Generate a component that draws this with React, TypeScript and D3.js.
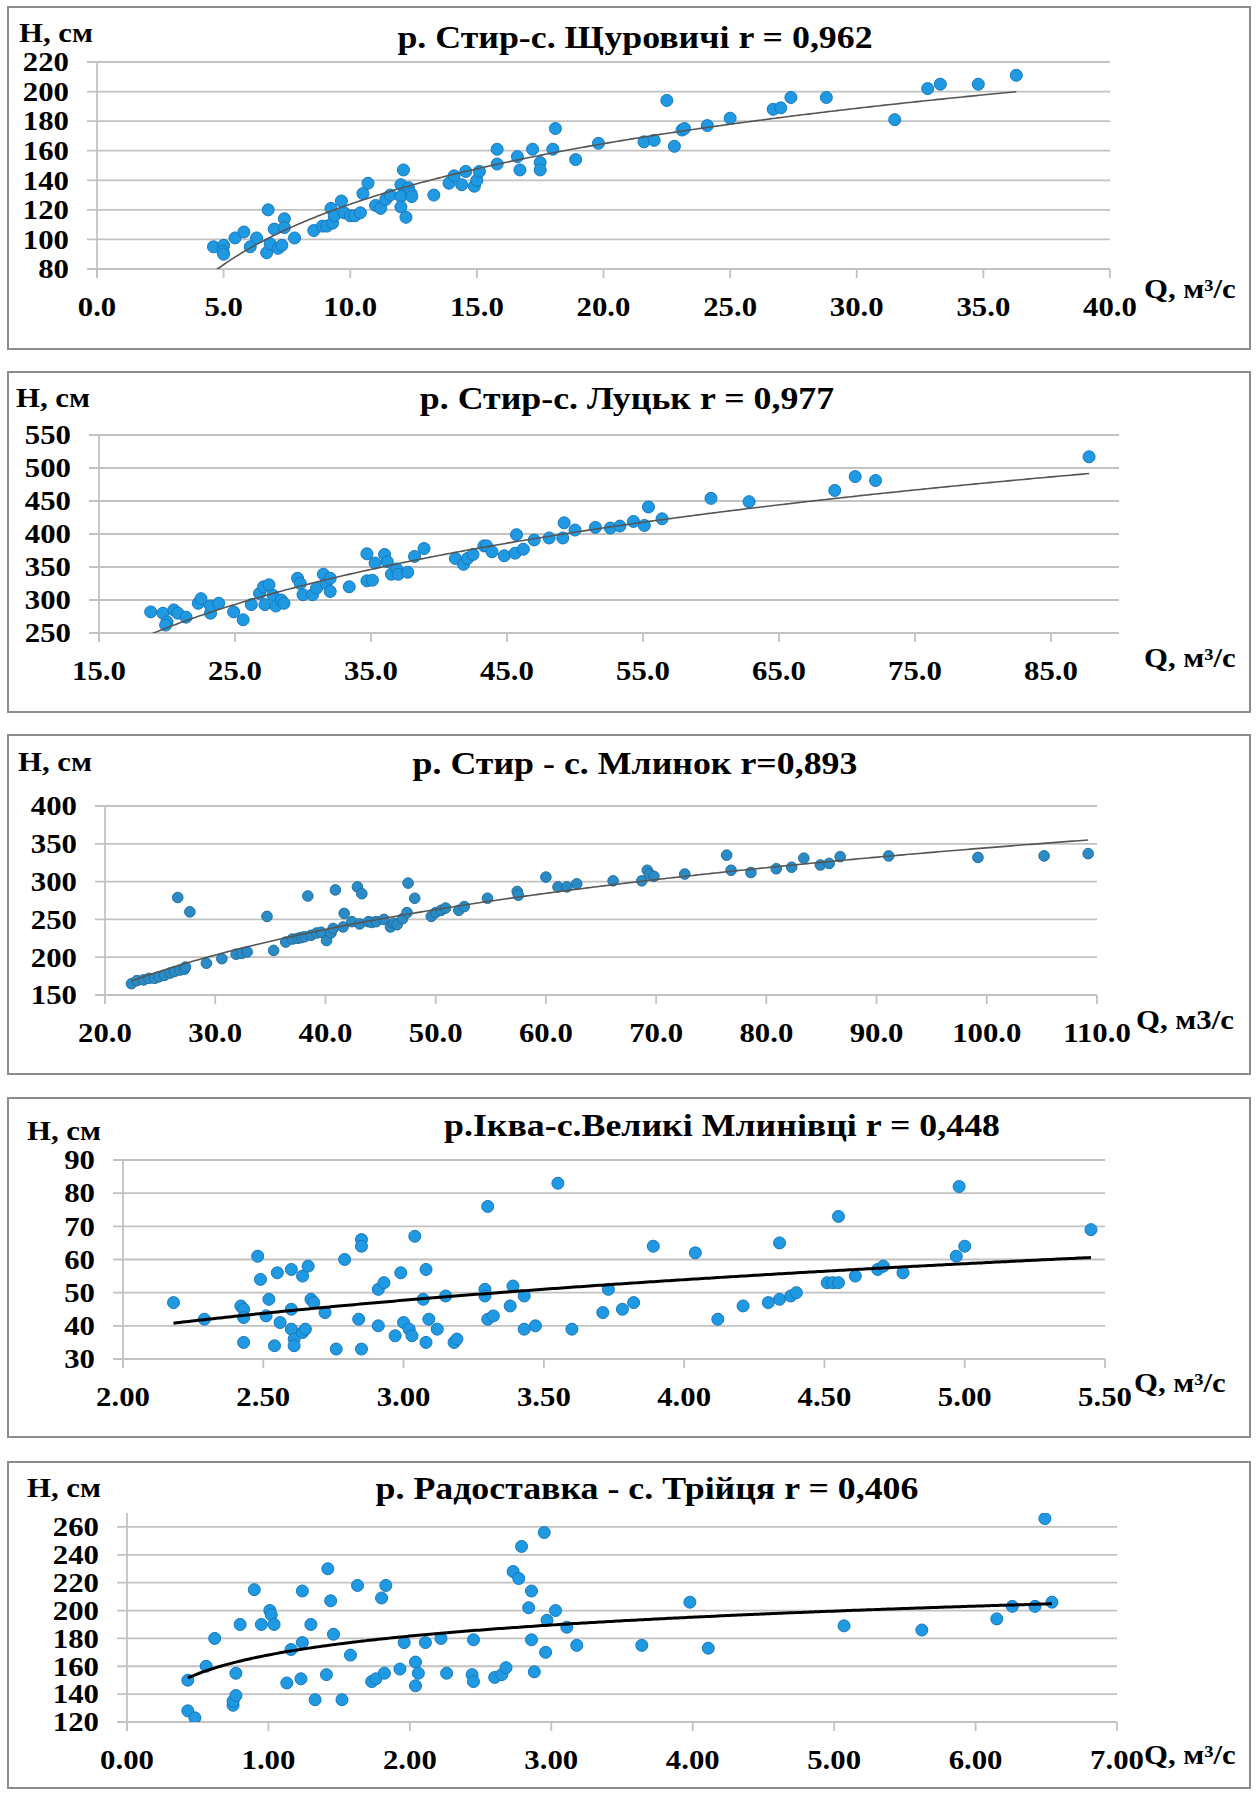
import React from 'react';
import * as d3 from 'd3';

// ---------- Data ----------
// Panel 1: р. Стир - с. Щуровичі
const q1 = [4.6,5.0,4.97,5.0,5.45,5.8,6.05,6.3,6.76,6.7,6.84,7.0,7.15,7.3,7.4,7.4,7.8,8.56,8.9,9.08,9.24,9.3,9.37,9.65,9.76,10.0,10.18,10.4,10.5,10.7,11.0,11.2,11.4,11.58,12.0,12.1,12.0,12.0,12.2,12.3,12.4,12.43,13.3,13.9,14.1,14.4,14.56,14.9,15.0,15.1,15.8,15.8,16.6,16.7,17.2,17.5,17.5,18.0,18.1,18.9,19.8,21.6,22.0,22.5,22.8,23.1,23.2,24.1,25.0,26.7,27.0,27.4,28.8,31.5,32.8,33.3,34.8,36.3];
const h1 = [95,96,92,90,101,105,95,101,120,91,97,107,94,96,114,108,101,106,109,109,121,111,116,126,118,116,116,118,131,138,123,121,127,130,137,147,129,122,115,135,131,129,130,138,143,137,146,136,140,146,161,151,156,147,161,152,147,161,175,154,165,166,167,194,163,174,175,177,182,188,189,196,196,181,202,205,205,211];
const xTicks1 = [0,5,10,15,20,25,30,35,40];
const yTicks1 = [80,100,120,140,160,180,200,220];
const trend1 = [-12, 59]; // H = a + b ln Q

// Panel 2: р. Стир - с. Луцьк
const q2 = [18.8,19.7,20.0,19.9,20.5,20.8,21.4,22.3,22.5,23.2,23.2,23.8,24.9,25.6,26.2,26.8,27.1,27.2,27.5,27.8,28.0,28.4,28.6,29.6,29.8,30.0,30.7,31.0,31.5,31.7,32.0,32.0,33.4,34.7,34.7,35.1,35.3,36.0,36.2,36.5,36.9,37.0,37.7,38.2,38.9,41.2,41.8,42.1,42.5,43.3,43.5,43.9,44.8,45.6,45.7,46.2,47.0,48.1,49.1,49.2,50.0,51.5,52.6,53.3,54.3,55.1,55.4,56.4,60.0,62.8,69.1,70.6,72.1,87.8];
const h2 = [282,280,267,262,285,280,274,295,302,280,291,295,282,270,293,310,320,293,323,307,291,300,295,333,325,308,308,318,339,325,313,333,320,370,329,330,356,369,358,339,347,339,342,366,378,363,354,363,369,382,382,373,367,371,399,377,391,394,394,417,406,410,409,412,419,413,441,423,454,449,466,487,481,517];
const xTicks2 = [15,25,35,45,55,65,75,85];
const yTicks2 = [250,300,350,400,450,500,550];
const trend2 = [-215, 157.9];

// Panel 3: р. Стир - с. Млинок
const q3 = [22.4,22.9,23.5,24.0,24.5,24.9,25.4,25.9,26.3,26.8,27.2,27.3,26.6,27.7,29.2,30.6,31.9,32.4,32.9,34.7,35.3,36.4,37.0,37.5,37.8,38.1,38.4,38.7,39.2,39.6,40.1,40.5,40.9,40.7,41.7,41.6,42.4,42.9,43.3,43.1,43.9,44.2,44.6,45.3,45.9,46.2,46.5,47.0,47.4,47.5,48.1,49.6,50.0,50.5,50.9,52.1,52.6,54.7,57.4,57.5,60.0,61.1,61.9,62.8,66.1,68.7,69.2,69.4,69.8,72.6,76.4,76.8,78.6,80.9,82.3,83.4,84.9,85.7,86.7,91.1,99.2,105.2,109.2];
const h3 = [165,169,170,172,172,174,176,179,181,183,184,187,279,260,192,198,204,205,207,254,209,220,224,225,226,227,281,229,232,233,222,232,289,238,258,240,247,293,284,244,247,246,247,250,240,245,243,251,259,298,278,254,259,262,265,262,267,278,287,282,306,293,293,297,301,301,315,310,307,310,335,315,312,317,319,331,322,324,333,334,332,334,337];
const xTicks3 = [20,30,40,50,60,70,80,90,100,110];
const yTicks3 = [150,200,250,300,350,400];
const trend3 = [-197.8, 117.8];

// Panel 4: р. Іква - с. Великі Млинівці
const q4 = [2.18,2.29,2.42,2.43,2.43,2.43,2.48,2.49,2.52,2.51,2.55,2.54,2.56,2.60,2.60,2.60,2.61,2.61,2.64,2.64,2.65,2.66,2.67,2.68,2.72,2.76,2.79,2.84,2.85,2.85,2.85,2.91,2.91,2.93,2.97,2.99,3.00,3.02,3.03,3.04,3.07,3.08,3.08,3.09,3.12,3.15,3.18,3.19,3.29,3.29,3.30,3.30,3.32,3.38,3.39,3.43,3.43,3.47,3.55,3.60,3.71,3.73,3.78,3.82,3.89,4.04,4.12,4.21,4.30,4.34,4.34,4.38,4.40,4.51,4.53,4.55,4.55,4.61,4.69,4.71,4.78,4.97,4.98,5.00,5.45];
const h4 = [47,42,46,45,35,42.5,61,54,48,43,56,34,41,57,45,39,36,34,55,38,39,58,48,47,44,33,60,42,66,64,33,51,40,53,37,56,41,39,37,67,48,57,35,42,39,49,35,36,51,49,76,42,43,46,52,49,39,40,83,39,44,51,45,47,64,62,42,46,47,48,65,49,50,53,53,53,73,55,57,58,56,61,82,64,69];
const xTicks4 = [2.0,2.5,3.0,3.5,4.0,4.5,5.0,5.5];
const yTicks4 = [30,40,50,60,70,80,90];
const trend4 = [23.97, 21.6];

// Panel 5: р. Радоставка - с. Трійця
const q5 = [0.43,0.43,0.48,0.56,0.62,0.75,0.75,0.77,0.77,0.80,0.90,0.95,1.01,1.02,1.04,1.13,1.16,1.24,1.24,1.23,1.30,1.33,1.41,1.42,1.44,1.46,1.52,1.58,1.63,1.73,1.76,1.82,1.80,1.83,1.93,1.96,2.04,2.04,2.06,2.11,2.22,2.26,2.44,2.45,2.45,2.60,2.65,2.68,2.73,2.77,2.79,2.84,2.86,2.86,2.88,2.95,2.96,2.97,3.03,3.11,3.18,3.64,3.98,4.11,5.07,5.62,6.15,6.26,6.42,6.49,6.54];
const h5 = [150,128,123,160,180,132,135,139,155,190,215,190,200,197,190,148,172,214,177,151,190,136,154,230,207,183,136,168,218,149,151,155,209,218,158,177,163,146,155,177,180,155,154,149,179,152,154,159,228,223,246,202,214,179,156,256,170,193,200,188,175,175,206,173,189,186,194,203,203,266,206];
const xTicks5 = [0,1,2,3,4,5,6,7];
const yTicks5 = [120,140,160,180,200,220,240,260];
const trend5 = [168.1, 19.57];

const titles = [
  'р. Стир-с. Щуровичі r = 0,962',
  'р. Стир-с. Луцьк r = 0,977',
  'р. Стир - с. Млинок r=0,893',
  'р.Іква-с.Великі Млинівці r = 0,448',
  'р. Радоставка - с. Трійця r = 0,406',
];
const qLabels = ['Q, м³/с', 'Q, м³/с', 'Q, м3/с', 'Q, м³/с', 'Q, м³/с'];
const hLabel = 'Н, см';

// ---------- Layout ----------
type Panel = {
  q: number[]; h: number[]; xTicks: number[]; yTicks: number[]; trend: number[];
  xDomain: [number, number]; yDomain: [number, number]; digits: number;
  frame: [number, number, number, number];
  px: [number, number]; py: [number, number];
  title: [number, number]; hPos: [number, number]; qPos: [number, number];
  dot: { r: number; fill: string; stroke: string };
  trendStyle: { stroke: string; width: number };
};

const blueDot = { r: 6, fill: '#1f9ae2', stroke: '#1777bd' };
const thinTrend = { stroke: '#555555', width: 1.6 };
const boldTrend = { stroke: '#000000', width: 3 };

// py = [pixel of yDomain[0], pixel of yDomain[1]]
const panels: Panel[] = [
  { q: q1, h: h1, xTicks: xTicks1, yTicks: yTicks1, trend: trend1, xDomain: [0, 40], yDomain: [80, 220], digits: 1,
    frame: [8, 7, 1250, 349], px: [97, 1110], py: [269, 62], title: [635, 37], hPos: [19, 33], qPos: [1144, 289],
    dot: blueDot, trendStyle: thinTrend },
  { q: q2, h: h2, xTicks: xTicks2, yTicks: yTicks2, trend: trend2, xDomain: [15, 90], yDomain: [250, 550], digits: 1,
    frame: [8, 372, 1250, 712], px: [99, 1119], py: [633, 435], title: [627, 398], hPos: [16, 398], qPos: [1144, 658],
    dot: blueDot, trendStyle: thinTrend },
  { q: q3, h: h3, xTicks: xTicks3, yTicks: yTicks3, trend: trend3, xDomain: [20, 110], yDomain: [150, 400], digits: 1,
    frame: [8, 735, 1250, 1074], px: [105, 1097], py: [995, 806], title: [635, 763], hPos: [18, 762], qPos: [1136, 1020],
    dot: { r: 5.3, fill: '#2a8bc6', stroke: '#216f9e' }, trendStyle: thinTrend },
  { q: q4, h: h4, xTicks: xTicks4, yTicks: yTicks4, trend: trend4, xDomain: [2, 5.5], yDomain: [30, 90], digits: 2,
    frame: [8, 1098, 1250, 1437], px: [123, 1105], py: [1359, 1160], title: [722, 1125], hPos: [27, 1131], qPos: [1134, 1383],
    dot: blueDot, trendStyle: boldTrend },
  { q: q5, h: h5, xTicks: xTicks5, yTicks: yTicks5, trend: trend5, xDomain: [0, 7], yDomain: [120, 270], digits: 2,
    frame: [8, 1462, 1250, 1788], px: [127, 1117], py: [1722, 1513], title: [647, 1488], hPos: [27, 1488], qPos: [1144, 1755],
    dot: blueDot, trendStyle: boldTrend },
];

const FONT = "'Liberation Serif','Times New Roman',serif";
const GRID = '#c2c2c2';

function T(props: { x: number; y: number; size: number; anchor?: string; sx?: number; children: React.ReactNode }) {
  const { x, y, size, anchor = 'start', sx = 1.14, children } = props;
  return (
    <text transform={`translate(${x},${y}) scale(${sx},1)`} fontSize={size} textAnchor={anchor as any}
      fontFamily={FONT} fontWeight="bold" fill="#000" dominantBaseline="central">{children}</text>
  );
}

function ChartPanel({ p, i }: { p: Panel; i: number }) {
  const x = d3.scaleLinear().domain(p.xDomain).range(p.px);
  const y = d3.scaleLinear().domain(p.yDomain).range(p.py);
  const [lo, hi] = d3.extent(p.q) as [number, number];
  const xs = d3.range(0, 301).map((k) => lo + ((hi - lo) * k) / 300);
  const line = d3.line<number>().x((v) => x(v)).y((v) => y(p.trend[0] + p.trend[1] * Math.log(v)));
  const clipId = `clip${i}`;
  const [fx0, fy0, fx1, fy1] = p.frame;
  const plotTop = y(p.yDomain[1]);
  const bottom = y(p.yDomain[0]);
  const left = x(p.xDomain[0]);
  const right = x(p.xDomain[1]);
  return (
    <g>
      <rect x={fx0} y={fy0} width={fx1 - fx0} height={fy1 - fy0} fill="#fff" stroke="#8c8c8c" strokeWidth={2} />
      <clipPath id={clipId}>
        <rect x={left} y={plotTop} width={right - left} height={bottom - plotTop} />
      </clipPath>
      {p.yTicks.map((t) => (
        <line key={'g' + t} x1={left - 10} x2={right} y1={y(t)} y2={y(t)} stroke={GRID} strokeWidth={1.8} />
      ))}
      <line x1={left} x2={left} y1={plotTop} y2={bottom + 9} stroke={GRID} strokeWidth={1.8} />
      {p.xTicks.map((t) => (
        <line key={'t' + t} x1={x(t)} x2={x(t)} y1={bottom} y2={bottom + 9} stroke={GRID} strokeWidth={1.8} />
      ))}
      {p.yTicks.map((t) => (
        <T key={'yl' + t} x={left - 28} y={y(t)} size={27} anchor="end">{String(t)}</T>
      ))}
      {p.xTicks.map((t) => (
        <T key={'xl' + t} x={x(t)} y={bottom + 38} size={27} anchor="middle">{t.toFixed(p.digits)}</T>
      ))}
      <g clipPath={`url(#${clipId})`}>
        {p.q.map((qv, k) => (
          <circle key={k} cx={x(qv)} cy={y(p.h[k])} r={p.dot.r} fill={p.dot.fill} stroke={p.dot.stroke} strokeWidth={1} />
        ))}
        <path d={line(xs) || ''} fill="none" stroke={p.trendStyle.stroke} strokeWidth={p.trendStyle.width} />
      </g>
      <T x={p.title[0]} y={p.title[1]} size={32} anchor="middle" sx={1.12}>{titles[i]}</T>
      <T x={p.hPos[0]} y={p.hPos[1]} size={27}>{hLabel}</T>
      <T x={p.qPos[0]} y={p.qPos[1]} size={27}>{qLabels[i]}</T>
    </g>
  );
}

export default function App() {
  return (
    <svg width={1256} height={1794} viewBox="0 0 1256 1794" style={{ position: 'absolute', left: 0, top: 0, display: 'block', background: '#fff' }}>
      <rect x={0} y={0} width={1256} height={1794} fill="#fff" />
      {panels.map((p, i) => (
        <ChartPanel key={i} p={p} i={i} />
      ))}
    </svg>
  );
}
